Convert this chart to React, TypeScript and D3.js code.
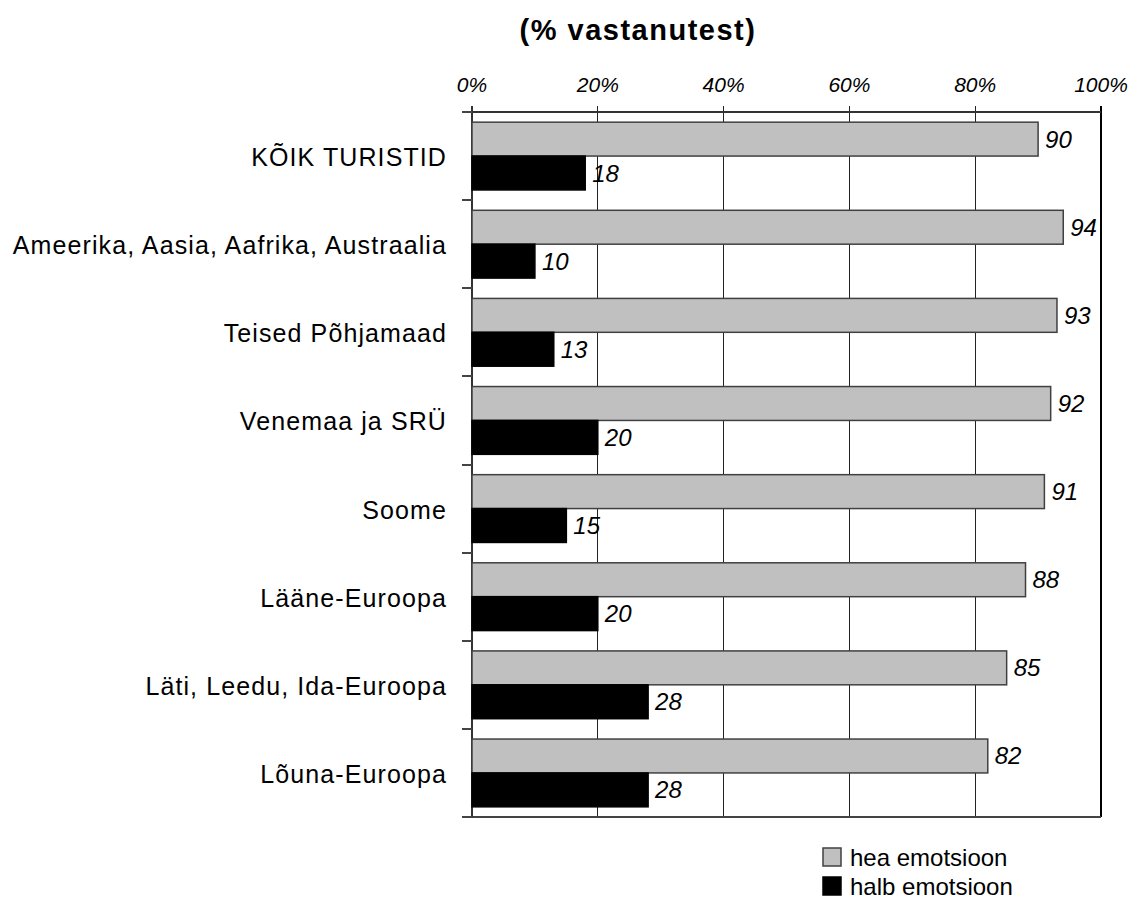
import React from "react";
import * as d3 from "d3";

const categories = [
  "KÕIK TURISTID",
  "Ameerika, Aasia, Aafrika, Austraalia",
  "Teised Põhjamaad",
  "Venemaa ja SRÜ",
  "Soome",
  "Lääne-Euroopa",
  "Läti, Leedu, Ida-Euroopa",
  "Lõuna-Euroopa",
];
const heaValues = [90, 94, 93, 92, 91, 88, 85, 82];
const halbValues = [18, 10, 13, 20, 15, 20, 28, 28];
const seriesNames = ["hea emotsioon", "halb emotsioon"];
const xTicks = [0, 20, 40, 60, 80, 100];
const title = "(% vastanutest)";

const FONT = "'Liberation Sans', Arial, sans-serif";

export default function App() {
  const W = 1129;
  const H = 901;
  const left = 472;
  const right = 1101;
  const top = 112;
  const bottom = 817;

  const x = d3.scaleLinear().domain([0, 100]).range([left, right]);
  const y = d3.scaleBand<string>().domain(categories).range([top, bottom]).padding(0);
  const inner = d3
    .scaleBand<string>()
    .domain(["hea", "halb"])
    .range([0, y.bandwidth()])
    .paddingInner(0)
    .paddingOuter(0.3);

  const series = [
    { key: "hea", values: heaValues, fill: "#c0c0c0", stroke: "#404040" },
    { key: "halb", values: halbValues, fill: "#000000", stroke: "#000000" },
  ];

  const boundaries = d3.range(categories.length + 1).map((i) => top + i * y.step());

  return (
    <svg width={W} height={H} style={{ display: "block", position: "absolute", left: 0, top: 0, background: "#fff" }}>
      <rect x={0} y={0} width={W} height={H} fill="#fff" />
      <text x={638} y={40} textAnchor="middle" fontFamily={FONT} fontWeight="bold" fontSize={29} letterSpacing={1.5} fill="#000">
        {title}
      </text>

      {/* gridlines and top ticks */}
      {xTicks.map((t) => (
        <g key={t}>
          <line
            x1={x(t)}
            x2={x(t)}
            y1={top - 6}
            y2={bottom}
            stroke={t === 100 ? "#000" : "#222"}
            strokeWidth={t === 100 ? 2 : 1}
            shapeRendering="crispEdges"
          />
          <text
            x={x(t)}
            y={92}
            textAnchor="middle"
            fontFamily={FONT}
            fontStyle="italic"
            fontSize={21}
            fill="#000"
          >
            {t}%
          </text>
        </g>
      ))}

      {/* top and bottom axis lines */}
      <line x1={left - 10} x2={right} y1={top} y2={top} stroke="#333" strokeWidth={2} shapeRendering="crispEdges" />
      <line x1={left - 10} x2={right} y1={bottom} y2={bottom} stroke="#444" strokeWidth={2} shapeRendering="crispEdges" />

      {/* left axis */}
      <line x1={left} x2={left} y1={top - 6} y2={bottom} stroke="#333" strokeWidth={2} shapeRendering="crispEdges" />
      {boundaries.map((b, i) => (
        <line key={i} x1={left - 10} x2={left} y1={b} y2={b} stroke="#444" strokeWidth={2} shapeRendering="crispEdges" />
      ))}

      {/* bars */}
      {categories.map((c, i) => (
        <g key={c}>
          {series.map((s) => {
            const by = (y(c) as number) + (inner(s.key) as number);
            const bh = inner.bandwidth();
            const v = s.values[i];
            return (
              <g key={s.key}>
                <rect
                  x={x(0)}
                  y={by}
                  width={x(v) - x(0)}
                  height={bh}
                  fill={s.fill}
                  stroke={s.stroke}
                  strokeWidth={1.5}
                />
                <text
                  x={x(v) + 7}
                  y={by + bh / 2 + 8.5}
                  fontFamily={FONT}
                  fontStyle="italic"
                  fontSize={24}
                  fill="#000"
                >
                  {v}
                </text>
              </g>
            );
          })}
          <text
            x={447}
            y={(y(c) as number) + y.bandwidth() / 2 + 10}
            textAnchor="end"
            fontFamily={FONT}
            fontSize={25}
            letterSpacing={1.1}
            fill="#000"
          >
            {c}
          </text>
        </g>
      ))}

      {/* legend */}
      {series.map((s, i) => (
        <g key={s.key}>
          <rect x={823} y={848 + i * 29} width={18} height={18} fill={s.fill} stroke={s.stroke} strokeWidth={1.5} />
          <text x={850} y={866 + i * 29} fontFamily={FONT} fontSize={24} fill="#000">
            {seriesNames[i]}
          </text>
        </g>
      ))}
    </svg>
  );
}
